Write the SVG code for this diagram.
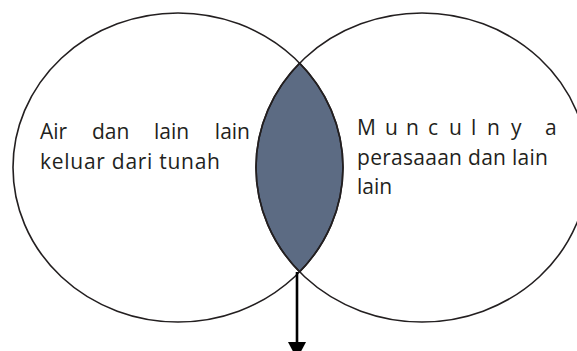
<svg xmlns="http://www.w3.org/2000/svg" width="577" height="351" viewBox="0 0 577 351">
  <style>
    .ring { fill: none; stroke: #231f20; stroke-width: 1.6; }
    .lens { fill: #5c6b83; stroke: #231f20; stroke-width: 1.6; }
    .label { font-family: "Open Sans", "Noto Sans", sans-serif; font-size: 21px; fill: #231f20; }
    .arrow { fill: none; stroke: #000; stroke-width: 2.6; }
  </style>
  <defs>
    <marker id="head" markerUnits="userSpaceOnUse" markerWidth="20" markerHeight="18" refX="16" refY="9" orient="auto">
      <path d="M0,0 L17,9 L0,18 Z" fill="#000"/>
    </marker>
  </defs>
  <rect width="577" height="351" fill="#fff"/>

  <!-- overlapping region -->
  <g id="overlap">
    <path class="lens" d="M299.6,63.1 A165,154.5 0 0 1 299.6,271.9 A166,154.5 0 0 1 299.6,63.1 Z"/>
  </g>

  <!-- left set -->
  <g id="set-left">
    <ellipse class="ring" cx="178" cy="167.5" rx="165" ry="154.5"/>
    <text class="label" y="139">
      <tspan x="40">Air</tspan><tspan x="92">dan</tspan><tspan x="154">lain</tspan><tspan x="250" text-anchor="end">lain</tspan>
    </text>
    <text class="label" x="40" y="169" textLength="180" lengthAdjust="spacing">keluar dari tunah</text>
  </g>

  <!-- right set -->
  <g id="set-right">
    <ellipse class="ring" cx="422" cy="167.5" rx="166" ry="154.5"/>
    <text class="label" y="135" x="357 385 406 428 449 471 487 511 545">Munculnya</text>
    <text class="label" x="357" y="164.5" textLength="191" lengthAdjust="spacing">perasaaan dan lain</text>
    <text class="label" x="357" y="194">lain</text>
  </g>

  <!-- connectors -->
  <g id="connectors">
    <path class="arrow" d="M297,272 L297,358" marker-end="url(#head)"/>
  </g>
</svg>
